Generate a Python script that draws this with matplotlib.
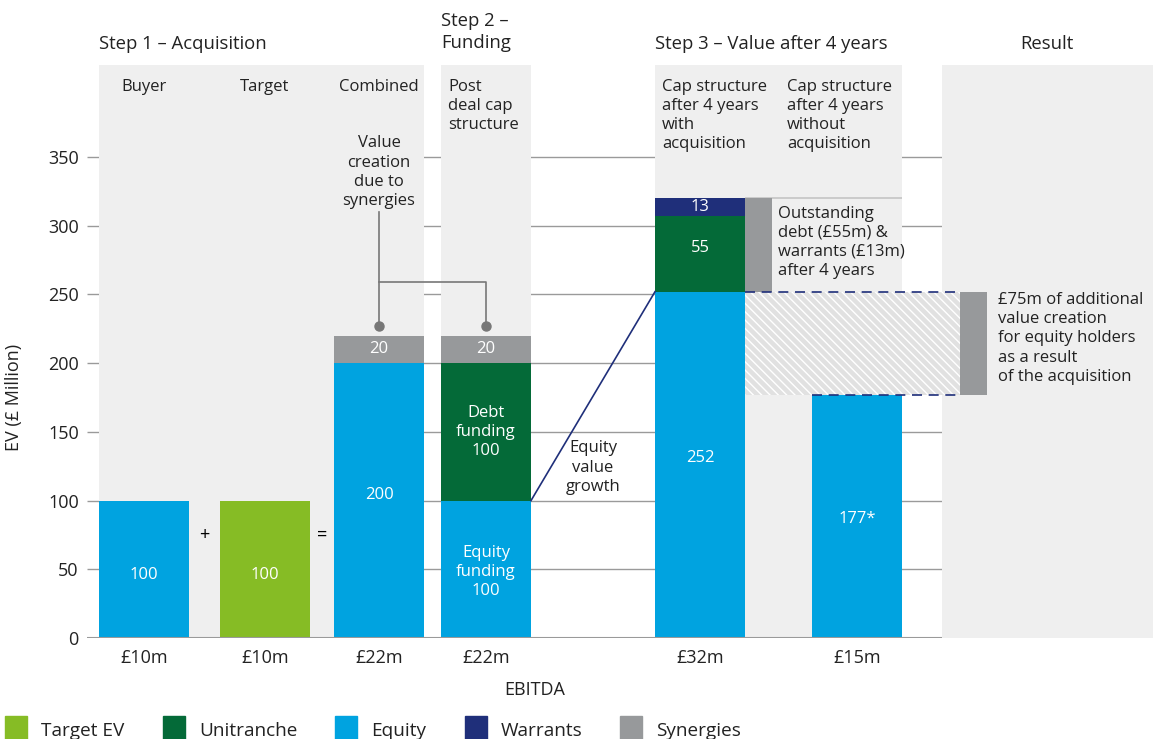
import matplotlib
matplotlib.use("Agg")
import matplotlib.pyplot as plt
from matplotlib.patches import Rectangle

plt.rcParams['font.family'] = ['Open Sans', 'DejaVu Sans']

# --- data ---------------------------------------------------------------
categories = ['Buyer', 'Target', 'Combined', 'Post\ndeal cap\nstructure',
              'Cap structure\nafter 4 years\nwith\nacquisition',
              'Cap structure\nafter 4 years\nwithout\nacquisition']
ebitda = ['£10m', '£10m', '£22m', '£22m', '£32m', '£15m']
equity = [100, 0, 200, 100, 252, 177]
target_ev = [0, 100, 0, 0, 0, 0]
unitranche = [0, 0, 0, 100, 55, 0]
warrants = [0, 0, 0, 0, 13, 0]
synergies = [0, 0, 20, 20, 0, 0]
yticks = [0, 50, 100, 150, 200, 250, 300, 350]

outstanding = unitranche[4] + warrants[4]
extra_value = equity[4] - equity[5]

# --- colours ------------------------------------------------------------
BLUE = '#00a3e0'
LIME = '#86bc25'
DKGREEN = '#046a38'
NAVY = '#1f2f7a'
GREY = '#97999b'
PANEL = '#efefef'
GRID = '#9a9a9a'
INK = '#222222'

# --- layout (x in pixel-like units across the figure) -------------------
W, H = 1153, 739
centers = [144, 265, 379, 486, 700, 857]
header_x = [144, 265, 379, 448, 662, 787]
bw = 90
panels = [(99, 424), (441, 531), (655, 902), (942, 1153)]
ytop = 417.0
LS = 1.26

fig = plt.figure(figsize=(W / 100, H / 100), dpi=100)
ax = fig.add_axes([87 / W, (H - 638) / H, (W - 87) / W, 573 / H])
ax.set_xlim(87, W)
ax.set_ylim(0, ytop)
for s in ax.spines.values():
    s.set_visible(False)

# grid lines sit behind the grey panels
ax.hlines(yticks[1:], 87, 942, color=GRID, lw=1, zorder=0)
ax.hlines(0, 87, 942, color=GRID, lw=1.5, zorder=4)
for x0, x1 in panels:
    ax.axvspan(x0, x1, color=PANEL, lw=0, zorder=1)

ax.set_yticks(yticks)
ax.set_yticklabels([str(v) for v in yticks], fontsize=13, color=INK)
ax.tick_params(axis='y', length=0, pad=6)
ax.set_xticks(centers)
ax.set_xticklabels(ebitda, fontsize=13, color=INK)
ax.tick_params(axis='x', length=0, pad=8)

# stacked bars
bottom = [0] * len(centers)
for vals, col in [(equity, BLUE), (target_ev, LIME), (unitranche, DKGREEN),
                  (warrants, NAVY), (synergies, GREY)]:
    ax.bar(centers, vals, bw, bottom=bottom, color=col, lw=0, zorder=3)
    bottom = [b + v for b, v in zip(bottom, vals)]

def seg_label(i, y, txt, size=12):
    ax.text(centers[i], y, txt, color='white', fontsize=size,
            ha='center', va='center', zorder=5, linespacing=LS)

seg_label(0, equity[0] / 2 - 4, str(equity[0]))
seg_label(1, target_ev[1] / 2 - 4, str(target_ev[1]))
seg_label(2, equity[2] / 2 + 4, str(equity[2]))
seg_label(2, equity[2] + synergies[2] / 2, str(synergies[2]))
seg_label(3, equity[3] / 2 - 2, 'Equity\nfunding\n%d' % equity[3])
seg_label(3, equity[3] + unitranche[3] / 2, 'Debt\nfunding\n%d' % unitranche[3])
seg_label(3, equity[3] + unitranche[3] + synergies[3] / 2, str(synergies[3]))
seg_label(4, equity[4] / 2 + 5, str(equity[4]))
seg_label(4, equity[4] + unitranche[4] / 2 + 4, str(unitranche[4]))
seg_label(4, equity[4] + unitranche[4] + warrants[4] / 2, str(warrants[4]))
seg_label(5, equity[5] / 2 - 2, '%d*' % equity[5])

# column headings inside the panels
for name, hx in zip(categories, header_x):
    ax.text(hx, 407, name, ha='left' if '\n' in name else 'center', va='top',
            fontsize=12, linespacing=LS, color=INK, zorder=5)

# step titles above the panels
title_kw = dict(fontsize=13.3, color=INK, clip_on=False, va='center')
ax.text(99, 432.5, 'Step 1 – Acquisition', ha='left', **title_kw)
ax.text(441, 441, 'Step 2 –\nFunding', ha='left', linespacing=1.22, **title_kw)
ax.text(655, 432.5, 'Step 3 – Value after 4 years', ha='left', **title_kw)
ax.text(1047, 432.5, 'Result', ha='center', **title_kw)

ax.text(204, 75, '+', ha='center', va='center', fontsize=13, zorder=5)
ax.text(322, 75, '=', ha='center', va='center', fontsize=13, zorder=5)

# synergy connector
syn_top = equity[2] + synergies[2]
ax.text(centers[2], 339, 'Value\ncreation\ndue to\nsynergies', ha='center',
        va='center', fontsize=12, linespacing=LS, color=INK, zorder=5)
ax.plot([centers[2], centers[2]], [310, syn_top + 7], color='#777777', lw=1.2, zorder=5)
ax.plot([centers[2], centers[3], centers[3]], [259, 259, syn_top + 7],
        color='#777777', lw=1.2, zorder=5)
ax.plot([centers[2], centers[3]], [syn_top + 7] * 2, 'o', color='#777777',
        ms=6.5, zorder=6)

# equity growth line
ax.plot([centers[3] + bw / 2, centers[4] - bw / 2], [equity[3], equity[4]],
        color=NAVY, lw=1.2, zorder=5)
ax.text(593, 124, 'Equity\nvalue\ngrowth', ha='center', va='center',
        fontsize=12, linespacing=LS, color=INK, zorder=5)

# outstanding debt & warrants bracket
x_gap = centers[4] + bw / 2
ax.bar(x_gap + 13.5, outstanding, 27, bottom=equity[4], color=GREY, lw=0, zorder=3)
ax.hlines(equity[4] + outstanding, x_gap, 902, color='#c4c4c4', lw=1.2, zorder=2)
ax.text(778, 288, 'Outstanding\ndebt (£55m) &\nwarrants (£13m)\nafter 4 years',
        ha='left', va='center', fontsize=12, linespacing=LS, color=INK, zorder=5)

# hatched band for extra value created
ax.add_patch(Rectangle((x_gap, equity[5]), 960 - x_gap, extra_value,
                       facecolor='#e1e1e1', edgecolor='white', lw=0,
                       hatch='\\\\\\\\', zorder=3))
ax.hlines(equity[4], x_gap, 960, color=NAVY, lw=1.2, linestyles=(0, (6, 4)), zorder=4)
ax.hlines(equity[5], centers[5] - bw / 2, 960, color=NAVY, lw=1.2,
          linestyles=(0, (6, 4)), zorder=4)
ax.bar(973.5, extra_value, 27, bottom=equity[5], color=GREY, lw=0, zorder=3)
ax.text(998, 218, '£75m of additional\nvalue creation\nfor equity holders\nas a result\nof the acquisition',
        ha='left', va='center', fontsize=12, linespacing=LS, color=INK, zorder=5)

# axis titles
fig.text(14 / W, 1 - 397 / H, 'EV (£ Million)', rotation=90, ha='center',
         va='center', fontsize=13, color=INK)
fig.text(535 / W, 1 - 690 / H, 'EBITDA', ha='center', va='center',
         fontsize=13, color=INK)

# legend along the bottom edge
legend_items = [('Target EV', LIME), ('Unitranche', DKGREEN), ('Equity', BLUE),
                ('Warrants', NAVY), ('Synergies', GREY)]
legend_x = [5, 163, 335, 465, 620]
for (lab, col), lx in zip(legend_items, legend_x):
    fig.add_artist(Rectangle((lx / W, 0), 22 / W, 23 / H, color=col,
                             transform=fig.transFigure))
    fig.text((lx + 36) / W, 1 - 731 / H, lab, ha='left', va='center',
             fontsize=13.7, color=INK)

fig.savefig('out.png', dpi=100)
